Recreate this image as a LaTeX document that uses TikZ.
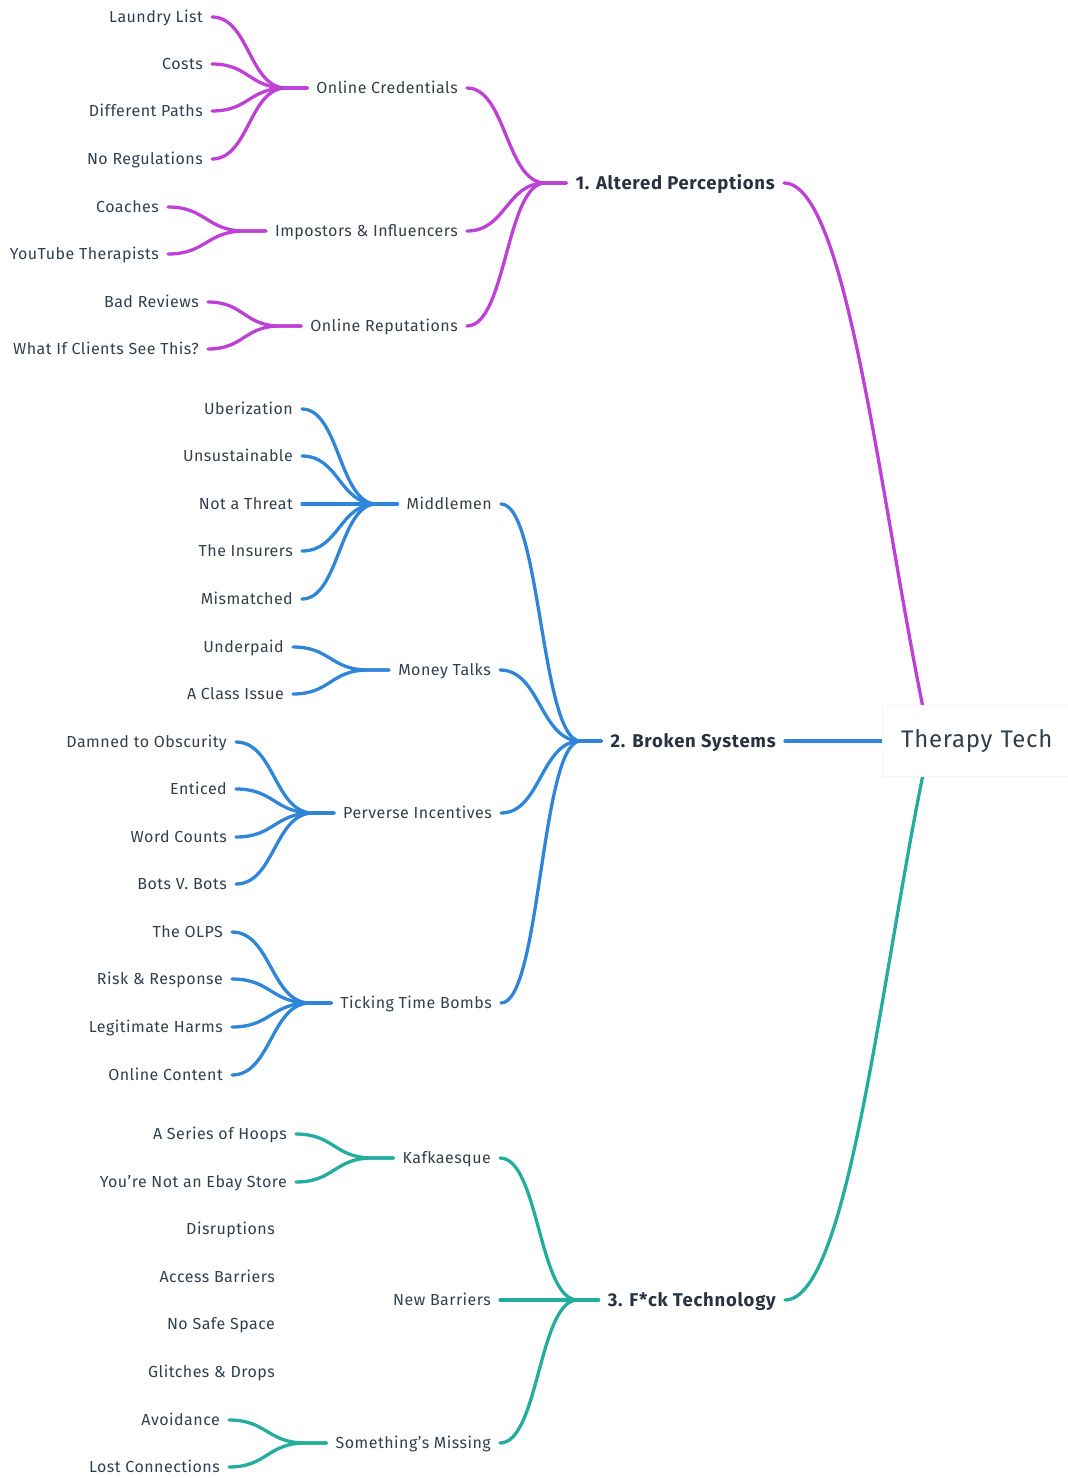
\documentclass[tikz,border=0pt]{standalone}
\usepackage{fontspec}
\setmainfont[LetterSpace=3]{Fira Sans}
\newfontfamily\topicfont[LetterSpace=4]{Fira Sans}
\newfontfamily\rootfont[LetterSpace=3]{Fira Sans}
\usetikzlibrary{calc,backgrounds,shadows}
\definecolor{mag}{RGB}{191,64,214}
\definecolor{blu}{RGB}{47,134,216}
\definecolor{tea}{RGB}{36,173,158}
\definecolor{txt}{RGB}{52,63,77}
\definecolor{txtb}{RGB}{40,50,64}
\tikzset{
 leaf/.style={anchor=east, inner sep=0pt, text=txt, text height=11pt, text depth=0pt, font=\fontsize{16}{18}\selectfont},
 topic/.style={anchor=east, inner sep=0pt, text=txtb, text height=13pt, text depth=0pt, font=\topicfont\fontsize{18.5}{20}\selectfont\bfseries},
 rootbox/.style={anchor=west, fill=white, draw=black!4, inner xsep=19pt, text width=180pt, align=left, minimum height=71pt, text=txt, font=\rootfont\fontsize{24}{26}\selectfont, drop shadow={opacity=0.06, shadow xshift=0pt, shadow yshift=-1pt}},
 link/.style={line width=3.3pt, line cap=round},
}
\newcommand\lnk[3]{\draw[link,#1] let \p1=($(#2.east)+(9,0)$), \p2=($(#3.west)+(-9,0)$), \p3=($(#3.west)+(-30,0)$) in (\p1) .. controls ({0.5*\x1+0.5*\x3},\y1) and ({0.5*\x1+0.5*\x3},\y3) .. (\p3) -- (\p2);}
\begin{document}
\begin{tikzpicture}[x=1pt,y=-1pt]
\useasboundingbox (0,0) rectangle (1068,1478);
% root
\node[rootbox] (root) at (882,741) {Therapy Tech};
% magenta branch
\node[leaf] (lau) at (203,17) {Laundry List};
\node[leaf] (cos) at (203,64) {Costs};
\node[leaf] (dif) at (203,111) {Different Paths};
\node[leaf] (nor) at (203,159) {No Regulations};
\node[leaf] (coa) at (159,207) {Coaches};
\node[leaf] (you) at (159,254) {YouTube Therapists};
\node[leaf] (bad) at (199,302) {Bad Reviews};
\node[leaf] (wha) at (199,349) {What If Clients See This?};
\node[leaf] (onc) at (458,88) {Online Credentials};
\node[leaf] (imp) at (458,231) {Impostors \& Influencers};
\node[leaf] (onr) at (458,326) {Online Reputations};
\node[topic] (ap) at (775,183) {1. Altered Perceptions};
% blue branch
\node[leaf] (ube) at (293,409) {Uberization};
\node[leaf] (uns) at (293,456) {Unsustainable};
\node[leaf] (nat) at (293,504) {Not a Threat};
\node[leaf] (ins) at (293,551) {The Insurers};
\node[leaf] (mis) at (293,599) {Mismatched};
\node[leaf] (und) at (284,647) {Underpaid};
\node[leaf] (cla) at (284,694) {A Class Issue};
\node[leaf] (dam) at (227,742) {Damned to Obscurity};
\node[leaf] (ent) at (227,789) {Enticed};
\node[leaf] (wor) at (227,837) {Word Counts};
\node[leaf] (bot) at (227,884) {Bots V. Bots};
\node[leaf] (olp) at (223,932) {The OLPS};
\node[leaf] (ris) at (223,979) {Risk \& Response};
\node[leaf] (leg) at (223,1027) {Legitimate Harms};
\node[leaf] (onl) at (223,1075) {Online Content};
\node[leaf] (mid) at (492,504) {Middlemen};
\node[leaf] (mon) at (491,670) {Money Talks};
\node[leaf] (per) at (492,813) {Perverse Incentives};
\node[leaf] (tic) at (492,1003) {Ticking Time Bombs};
\node[topic] (bs) at (776,741) {2. Broken Systems};
% teal branch
\node[leaf] (hoo) at (287,1134) {A Series of Hoops};
\node[leaf] (eba) at (287,1182) {You're Not an Ebay Store};
\node[leaf] (dis) at (275,1229) {Disruptions};
\node[leaf] (acc) at (275,1277) {Access Barriers};
\node[leaf] (nos) at (275,1324) {No Safe Space};
\node[leaf] (gli) at (275,1372) {Glitches \& Drops};
\node[leaf] (avo) at (220,1420) {Avoidance};
\node[leaf] (los) at (220,1467) {Lost Connections};
\node[leaf] (kaf) at (491,1158) {Kafkaesque};
\node[leaf] (nba) at (491,1300) {New Barriers};
\node[leaf] (som) at (491,1443) {Something's Missing};
\node[topic] (ft) at (776,1300) {3. F*ck Technology};
\begin{scope}[on background layer]
\lnk{mag}{lau}{onc}\lnk{mag}{cos}{onc}\lnk{mag}{dif}{onc}\lnk{mag}{nor}{onc}
\lnk{mag}{coa}{imp}\lnk{mag}{you}{imp}
\lnk{mag}{bad}{onr}\lnk{mag}{wha}{onr}
\lnk{mag}{onc}{ap}\lnk{mag}{imp}{ap}\lnk{mag}{onr}{ap}
\lnk{blu}{ube}{mid}\lnk{blu}{uns}{mid}\lnk{blu}{nat}{mid}\lnk{blu}{ins}{mid}\lnk{blu}{mis}{mid}
\lnk{blu}{und}{mon}\lnk{blu}{cla}{mon}
\lnk{blu}{dam}{per}\lnk{blu}{ent}{per}\lnk{blu}{wor}{per}\lnk{blu}{bot}{per}
\lnk{blu}{olp}{tic}\lnk{blu}{ris}{tic}\lnk{blu}{leg}{tic}\lnk{blu}{onl}{tic}
\lnk{blu}{mid}{bs}\lnk{blu}{mon}{bs}\lnk{blu}{per}{bs}\lnk{blu}{tic}{bs}
\lnk{tea}{hoo}{kaf}\lnk{tea}{eba}{kaf}
\lnk{tea}{avo}{som}\lnk{tea}{los}{som}
\lnk{tea}{kaf}{ft}\lnk{tea}{nba}{ft}\lnk{tea}{som}{ft}
\draw[link,mag] ($(ap.east)+(9,0)$) .. controls +(65,0) and +(-48,-220) .. ($(root.west)+(48,0)$);
\draw[link,tea] ($(ft.east)+(9,0)$) .. controls +(65,0) and +(-48,220) .. ($(root.west)+(48,0)$);
\draw[link,blu] ($(bs.east)+(9,0)$) -- (root.west);
\end{scope}
\end{tikzpicture}
\end{document}
